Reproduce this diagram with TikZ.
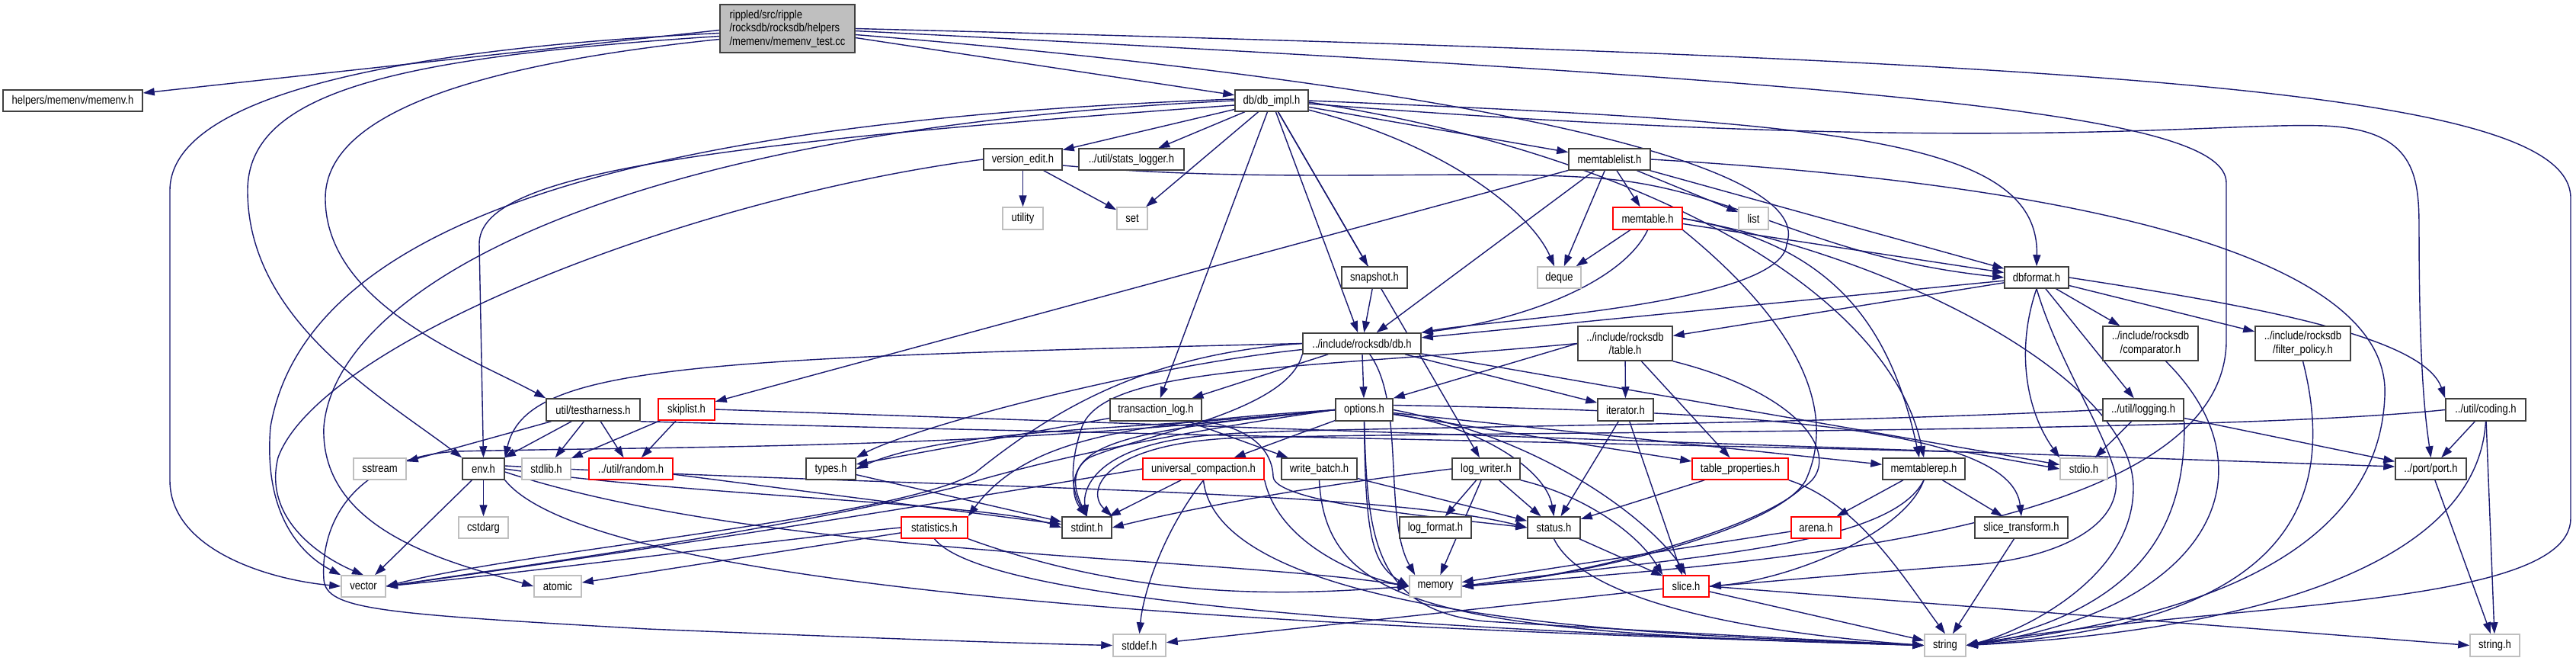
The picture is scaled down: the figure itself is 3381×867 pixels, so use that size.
\documentclass[tikz,border=0pt]{standalone}
\usepackage{fontspec}
\newfontfamily\nfont[FakeStretch=0.84]{Liberation Sans}
\usetikzlibrary{arrows.meta}
\definecolor{edgec}{HTML}{191970}
\definecolor{grayb}{HTML}{BFBFBF}
\definecolor{darkb}{HTML}{404040}
\pgfdeclarelayer{background}
\pgfsetlayers{background,main}
\newcommand\mknode[7]{%
  \pgfmathsetmacro\mkw{#4-#2}%
  \pgfmathsetmacro\mkh{#5-#3}%
  \pgfmathsetmacro\mkx{(#2+#4)/2}%
  \pgfmathsetmacro\mky{(#3+#5)/2}%
  \node[#6, minimum width=\mkw pt, minimum height=\mkh pt] (#1) at (\mkx,\mky) {#7};}
\begin{document}
\begin{tikzpicture}[x=1pt,y=-1pt,
 nd/.style={draw, line width=1.5pt, fill=white, inner sep=0pt, align=center, font=\nfont\fontsize{15.5}{17.5}\selectfont},
 dk/.style={nd, draw=darkb},
 gr/.style={nd, draw=grayb},
 rd/.style={nd, draw=red},
 mn/.style={nd, draw=darkb, fill=grayb, align=left},
 dep/.style={draw=edgec, line width=1.4pt, -{Triangle[length=15pt,width=10pt]}}]
\useasboundingbox (0,0) rectangle (3381,867);
% nodes
\mknode{main}{945}{6}{1122}{69}{mn}{rippled/src/ripple\\/rocksdb/rocksdb/helpers\\/memenv/memenv\_test.cc}
\mknode{memenv}{4}{118}{187}{146}{dk}{helpers/memenv/memenv.h}
\mknode{dbimpl}{1621}{118}{1717}{146}{dk}{db/db\_impl.h}
\mknode{versionedit}{1291}{195}{1394}{223}{dk}{version\_edit.h}
\mknode{statslogger}{1416}{195}{1554}{223}{dk}{../util/stats\_logger.h}
\mknode{utility}{1316}{272}{1369}{301}{gr}{utility}
\mknode{set}{1466}{272}{1506}{301}{gr}{set}
\mknode{memtablelist}{2059}{195}{2166}{223}{dk}{memtablelist.h}
\mknode{memtable}{2117}{272}{2208}{301}{rd}{memtable.h}
\mknode{list}{2282}{272}{2321}{301}{gr}{list}
\mknode{snapshot}{1761}{350}{1847}{378}{dk}{snapshot.h}
\mknode{deque}{2018}{350}{2075}{378}{gr}{deque}
\mknode{dbformat}{2631}{350}{2715}{378}{dk}{dbformat.h}
\mknode{dbh}{1710}{437}{1865}{464}{dk}{../include/rocksdb/db.h}
\mknode{tableh}{2071}{428}{2195}{473}{dk}{../include/rocksdb\\/table.h}
\mknode{comparator}{2760}{428}{2885}{473}{dk}{../include/rocksdb\\/comparator.h}
\mknode{filterpolicy}{2960}{428}{3085}{473}{dk}{../include/rocksdb\\/filter\_policy.h}
\mknode{testharness}{717}{523}{840}{552}{dk}{util/testharness.h}
\mknode{skiplist}{864}{523}{938}{551}{rd}{skiplist.h}
\mknode{translog}{1457}{523}{1577}{552}{dk}{transaction\_log.h}
\mknode{options}{1753}{523}{1828}{552}{dk}{options.h}
\mknode{iterator}{2097}{523}{2170}{552}{dk}{iterator.h}
\mknode{logging}{2760}{523}{2866}{552}{dk}{../util/logging.h}
\mknode{coding}{3210}{523}{3315}{552}{dk}{../util/coding.h}
\mknode{sstream}{464}{601}{533}{629}{gr}{sstream}
\mknode{env}{607}{601}{662}{629}{dk}{env.h}
\mknode{stdlib}{685}{601}{749}{629}{gr}{stdlib.h}
\mknode{random}{773}{601}{883}{629}{rd}{../util/random.h}
\mknode{types}{1058}{601}{1123}{629}{dk}{types.h}
\mknode{universal}{1500}{601}{1659}{629}{rd}{universal\_compaction.h}
\mknode{writebatch}{1682}{601}{1781}{629}{dk}{write\_batch.h}
\mknode{logwriter}{1906}{601}{1995}{629}{dk}{log\_writer.h}
\mknode{tableprops}{2221}{601}{2347}{629}{rd}{table\_properties.h}
\mknode{memtablerep}{2471}{601}{2579}{629}{dk}{memtablerep.h}
\mknode{stdio}{2704}{601}{2766}{629}{gr}{stdio.h}
\mknode{port}{3144}{601}{3237}{629}{dk}{../port/port.h}
\mknode{cstdarg}{602}{678}{667}{706}{gr}{cstdarg}
\mknode{statistics}{1183}{678}{1270}{706}{rd}{statistics.h}
\mknode{stdint}{1394}{678}{1459}{706}{dk}{stdint.h}
\mknode{logformat}{1837}{678}{1931}{706}{dk}{log\_format.h}
\mknode{status}{2005}{678}{2074}{706}{dk}{status.h}
\mknode{arena}{2351}{678}{2416}{706}{rd}{arena.h}
\mknode{slicetransform}{2592}{678}{2714}{706}{dk}{slice\_transform.h}
\mknode{vector}{448}{755}{506}{783}{gr}{vector}
\mknode{atomic}{701}{755}{763}{783}{gr}{atomic}
\mknode{memory}{1850}{755}{1918}{783}{gr}{memory}
\mknode{slice}{2183}{755}{2243}{783}{rd}{slice.h}
\mknode{stddef}{1461}{832}{1530}{861}{gr}{stddef.h}
\mknode{string}{2526}{832}{2580}{861}{gr}{string}
\mknode{stringh}{3242}{832}{3307}{861}{gr}{string.h}
\begin{pgfonlayer}{background}
\fill[white] (0,0) rectangle (3381,867);
% main
\draw[dep] ([yshift=-2pt]main.west) -- (memenv);
\draw[dep] ([yshift=-6pt]main.west) .. controls (600,60) and (223,110) .. (223,250) -- (223,630) .. controls (223,720) and (350,760) .. (vector.west);
\draw[dep] ([yshift=-10pt]main.west) .. controls (520,75) and (325,120) .. (325,250) .. controls (325,420) and (500,520) .. (env.north west);
\draw[dep] ([yshift=-14pt]main.west) .. controls (620,85) and (427,150) .. (427,260) .. controls (427,400) and (620,470) .. (testharness.north west);
\draw[dep] ([yshift=-12pt]main.east) -- (dbimpl);
\draw[dep] ([yshift=-8pt]main.east) .. controls (1800,100) and (2390,200) .. (2345,320) .. controls (2340,400) and (1950,420) .. (dbh.north east);
\draw[dep] ([yshift=-3pt]main.east) .. controls (2500,110) and (2922,150) .. (2922,240) -- (2922,450) .. controls (2915,700) and (2300,740) .. (memory.east);
\draw[dep] (main.east) .. controls (2800,80) and (3374,120) .. (3374,260) -- (3374,680) .. controls (3374,800) and (2900,790) .. (string.east);
% db_impl
\draw[dep] (dbimpl) -- (versionedit);
\draw[dep] (dbimpl) -- (statslogger);
\draw[dep] (dbimpl) -- (set);
\draw[dep] (dbimpl) -- (snapshot);
\draw[dep] (dbimpl) -- (dbh);
\draw[dep] (dbimpl) .. controls (1900,190) and (2010,280) .. (deque);
\draw[dep] (dbimpl) -- (memtablelist);
\draw[dep] (dbimpl.east) .. controls (2400,160) and (2677,180) .. (dbformat.north);
\draw[dep] ([yshift=-4pt]dbimpl.east) .. controls (2600,205) and (2900,160) .. (3050,165) .. controls (3170,170) and (3175,230) .. (3175,300) .. controls (3175,500) and (3185,560) .. (port.north);
\draw[dep] ([yshift=-6pt]dbimpl.west) .. controls (900,190) and (629,230) .. (629,320) -- (env.north);
\draw[dep] ([yshift=2pt]dbimpl.west) .. controls (800,160) and (400,300) .. (355,560) .. controls (345,680) and (400,730) .. (vector.north west);
\draw[dep] (dbimpl.west) .. controls (800,170) and (440,380) .. (425,560) .. controls (420,700) and (600,740) .. (atomic.west);
\draw[dep] (dbimpl) -- (logwriter);
\draw[dep] (dbimpl) -- (translog);
\draw[dep] ([yshift=-2pt]dbimpl.east) .. controls (2150,200) and (2480,380) .. (memtablerep.north);
% version_edit
\draw[dep] (versionedit) -- (utility);
\draw[dep] (versionedit) -- (set);
\draw[dep] (versionedit.west) .. controls (900,260) and (420,450) .. (365,600) .. controls (345,680) and (420,730) .. (vector.north);
\draw[dep] ([yshift=-8pt]versionedit.east) .. controls (1700,245) and (2000,215) .. (2150,240) .. controls (2300,265) and (2400,340) .. (dbformat.west);
% memtablelist
\draw[dep] (memtablelist) -- (memtable);
\draw[dep] (memtablelist) -- (list);
\draw[dep] (memtablelist) -- (deque);
\draw[dep] (memtablelist) -- (dbh);
\draw[dep] (memtablelist) -- (skiplist);
\draw[dep] (memtablelist) -- (dbformat);
\draw[dep] (memtablelist.east) .. controls (2700,240) and (3140,330) .. (3130,520) .. controls (3120,760) and (2800,820) .. (string.east);
% memtable
\draw[dep] (memtable) -- (deque);
\draw[dep] (memtable.south) .. controls (2130,370) and (2000,420) .. (dbh.north east);
\draw[dep] (memtable) -- (dbformat);
\draw[dep] (memtable.east) .. controls (2400,320) and (2480,420) .. ([xshift=-6pt]memtablerep.north);
\draw[dep] (memtable.south east) .. controls (2330,400) and (2420,520) .. (2370,630) .. controls (2330,700) and (2050,760) .. (memory.east);
\draw[dep] (memtable.east) .. controls (2500,340) and (2800,500) .. (2800,640) .. controls (2800,760) and (2650,830) .. (string.east);
% snapshot
\draw[dep] (snapshot) -- (dbh);
% dbformat
\draw[dep] (dbformat) -- (dbh);
\draw[dep] (dbformat) -- (tableh);
\draw[dep] (dbformat) -- (comparator);
\draw[dep] (dbformat) -- (filterpolicy);
\draw[dep] (dbformat) -- (logging);
\draw[dep] (dbformat.east) .. controls (2950,400) and (3180,440) .. (coding.north west);
\draw[dep] (dbformat.south) .. controls (2645,460) and (2660,540) .. (stdio.north west);
\draw[dep] (dbformat.south) .. controls (2700,470) and (2760,560) .. (2776,620) .. controls (2790,690) and (2700,730) .. (2600,740) .. controls (2400,755) and (2300,765) .. (slice.east);
% db.h
\draw[dep] (dbh) -- (options);
\draw[dep] (dbh) -- (iterator);
\draw[dep] (dbh) -- (translog);
\draw[dep] (dbh) .. controls (1500,480) and (1200,560) .. (types.north east);
\draw[dep] (dbh.south west) .. controls (1690,540) and (1500,570) .. (1430,600) .. controls (1405,615) and (1405,650) .. (stdint.north);
\draw[dep] (dbh) -- (stdio);
\draw[dep] (dbh) .. controls (1845,530) and (1815,680) .. ([xshift=8pt]memory.north west);
\draw[dep] (dbh.west) .. controls (1500,465) and (1380,540) .. (1280,620) .. controls (1180,680) and (700,720) .. (vector.east);
\draw[dep] (dbh.west) .. controls (900,470) and (690,480) .. (env.north east);
% options
\draw[dep] (options.west) .. controls (1300,590) and (900,585) .. (600,592) .. controls (470,600) and (420,680) .. (425,760) .. controls (428,800) and (500,805) .. (850,825) .. controls (1100,835) and (1300,843) .. (stddef.west);
\draw[dep] (options) -- (memtablerep);
\draw[dep] (options) -- (tableprops);
\draw[dep] (options.east) .. controls (2050,580) and (2180,700) .. (slice.north);
\draw[dep] ([yshift=6pt]options.east) .. controls (2300,540) and (2640,560) .. (slicetransform.north);
\draw[dep] (options.west) .. controls (1500,555) and (1350,570) .. (statistics.north east);
\draw[dep] (options) -- (universal);
\draw[dep] (options.west) .. controls (1500,565) and (1250,560) .. (types.east);
\draw[dep] (options.west) .. controls (1480,565) and (1380,580) .. (stdint.north);
\draw[dep] (options.west) .. controls (1450,580) and (1300,625) .. (1250,640) .. controls (1000,700) and (700,740) .. (vector.east);
\draw[dep] (options.south) .. controls (1792,700) and (1800,740) .. (memory.west);
\draw[dep] (options) .. controls (1950,560) and (2030,620) .. (status.north);
\draw[dep] (options.south) .. controls (1795,700) and (1800,800) .. (1950,815) .. controls (2200,830) and (2400,840) .. (string.west);
% transaction_log
\draw[dep] (translog) -- (writebatch);
\draw[dep] (translog.south east) .. controls (1640,560) and (1670,590) .. (1671,625) .. controls (1672,660) and (1900,680) .. (status.west);
\draw[dep] (translog) -- (types);
% universal_compaction
\draw[dep] (universal) -- (stdint);
\draw[dep] (universal.south) .. controls (1525,700) and (1500,780) .. (stddef.north);
\draw[dep] (universal.west) .. controls (1350,640) and (1000,700) .. (vector.east);
\draw[dep] (universal.south east) .. controls (1680,720) and (1800,760) .. (memory.west);
\draw[dep] (universal.south) .. controls (1600,830) and (2300,835) .. (string.west);
% statistics
\draw[dep] (statistics) -- (atomic);
\draw[dep] (statistics.west) .. controls (1000,710) and (700,750) .. (vector.east);
\draw[dep] (statistics.south east) .. controls (1500,790) and (1700,780) .. (memory.west);
\draw[dep] (statistics.south) .. controls (1300,800) and (2000,830) .. (string.west);
% env
\draw[dep] (env) -- (cstdarg);
\draw[dep] (env) -- (vector);
\draw[dep] (env.east) .. controls (900,650) and (1300,660) .. (stdint.west);
\draw[dep] ([yshift=-4pt]env.east) .. controls (1000,730) and (1600,730) .. (memory.west);
\draw[dep] ([yshift=4pt]env.east) .. controls (1200,640) and (1800,640) .. (status.west);
\draw[dep] (env.south east) .. controls (800,800) and (2000,830) .. (string.west);
% misc
\draw[dep] (types) -- (stdint);
\draw[dep] (random) -- (stdint);
\draw[dep] (skiplist) -- (random);
\draw[dep] (skiplist) -- (stdlib);
\draw[dep] (skiplist.east) -- ([yshift=3pt]port.west);
\draw[dep] (testharness) -- (sstream);
\draw[dep] (testharness) -- (env);
\draw[dep] (testharness) -- (stdlib);
\draw[dep] (testharness) -- (random);
\draw[dep] (testharness.south east) .. controls (1500,570) and (2300,585) .. (2580,593) -- (stdio.west);
% log_writer
\draw[dep] (logwriter) -- (logformat);
\draw[dep] (logwriter) -- (status);
\draw[dep] (logwriter) -- (memory);
\draw[dep] (logwriter.south east) .. controls (2080,650) and (2150,700) .. (slice.north west);
\draw[dep] (logwriter.west) .. controls (1700,640) and (1550,670) .. (stdint.east);
% table.h
\draw[dep] (tableh) -- (iterator);
\draw[dep] (tableh) -- (tableprops);
\draw[dep] (tableh.west) -- (options.north east);
\draw[dep] (tableh.south east) .. controls (2380,520) and (2420,610) .. (2365,640) .. controls (2300,700) and (2050,760) .. (memory.east);
\draw[dep] (tableh.west) .. controls (1700,485) and (1450,480) .. (1420,560) .. controls (1400,620) and (1410,650) .. (stdint.north);
% iterator, table_properties
\draw[dep] (iterator) -- (status);
\draw[dep] (iterator) -- (slice);
\draw[dep] (tableprops) -- (status);
\draw[dep] (tableprops.south east) .. controls (2440,660) and (2500,760) .. (string.north);
% memtablerep
\draw[dep] (memtablerep) -- (arena);
\draw[dep] (memtablerep.south) .. controls (2500,700) and (2350,760) .. (slice.east);
\draw[dep] (memtablerep.south) .. controls (2480,720) and (2200,730) .. (memory.east);
\draw[dep] (memtablerep) -- (slicetransform);
\draw[dep] (arena) -- (memory);
% status, slice
\draw[dep] (status) -- (slice);
\draw[dep] (status.south) .. controls (2080,790) and (2300,830) .. (string.west);
\draw[dep] (slice) -- (string);
\draw[dep] (slice.east) -- (stringh.west);
\draw[dep] (slice) -- (stddef);
\draw[dep] (slicetransform) -- (string);
% writebatch
\draw[dep] (writebatch) -- (status);
\draw[dep] (writebatch.south) .. controls (1740,800) and (1900,830) .. (string.west);
% logging, coding, port
\draw[dep] (logging) -- (stdio);
\draw[dep] (logging) -- (port);
\draw[dep] (logging.south east) .. controls (2870,700) and (2800,800) .. (string.east);
\draw[dep] (logging.west) .. controls (2300,560) and (1700,560) .. (1600,570) .. controls (1440,580) and (1420,640) .. (stdint.north);
\draw[dep] (coding) -- (port);
\draw[dep] (coding) -- (stringh);
\draw[dep] (coding.south) .. controls (3250,760) and (2900,830) .. (string.east);
\draw[dep] (coding.west) .. controls (2900,570) and (1900,565) .. (1610,575) .. controls (1445,585) and (1425,645) .. (stdint.north east);
\draw[dep] (port) -- (stringh);
\draw[dep] ([xshift=20pt]comparator.south) .. controls (2990,620) and (2900,800) .. (string.east);
\draw[dep] (filterpolicy.south) .. controls (3080,700) and (2950,820) .. (string.east);
\end{pgfonlayer}
\end{tikzpicture}
\end{document}
